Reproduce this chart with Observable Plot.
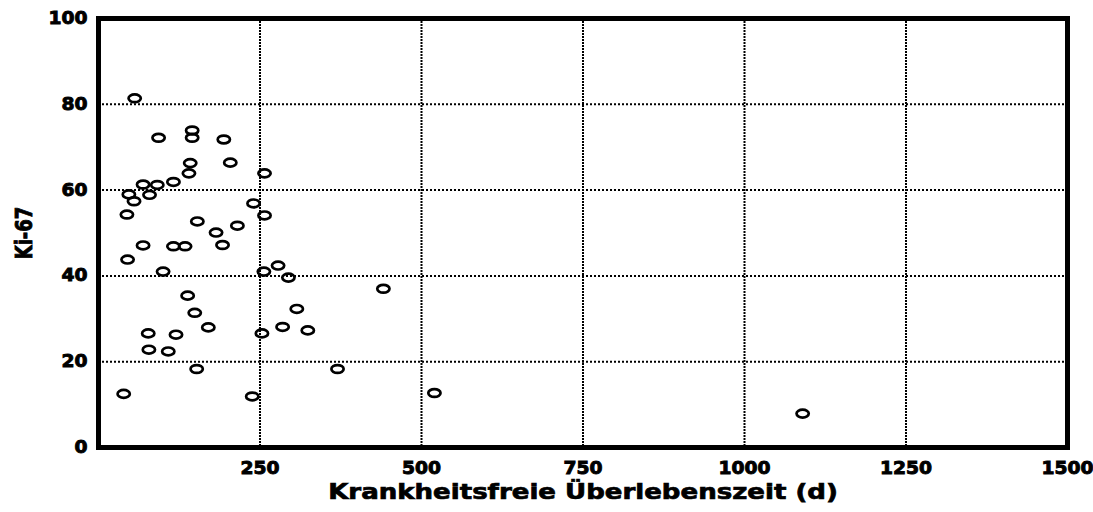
<!DOCTYPE html>
<html>
<head>
<meta charset="utf-8">
<script src="https://cdn.jsdelivr.net/npm/d3@7"></script>
<script src="https://cdn.jsdelivr.net/npm/@observablehq/plot@0.6"></script>
<style>
  html, body { margin: 0; padding: 0; background: #fff; }
  #chart svg { display: block; }
</style>
</head>
<body>
<div id="chart"></div>
<script>
// Krankheitsfreie Überlebenszeit (d)
const survivalDays = [56, 93, 145, 145, 194, 142, 204, 140, 257, 116, 69, 91, 47, 79, 55, 240, 44, 257, 153, 215, 182, 69, 116, 134, 192, 45, 100, 256, 278, 294, 138, 149, 170, 77, 120, 253, 285, 307, 324, 78, 108, 152, 370, 39, 238, 441, 520, 1090];
// Ki-67
const ki67 = [81.4, 72.2, 73.9, 72.2, 71.8, 66.3, 66.4, 63.9, 63.9, 61.9, 61.3, 61.2, 59.0, 58.9, 57.4, 56.9, 54.3, 54.1, 52.7, 51.7, 50.1, 47.1, 46.9, 46.9, 47.2, 43.8, 41.0, 41.0, 42.4, 39.6, 35.4, 31.4, 28.0, 26.6, 26.3, 26.6, 28.1, 32.3, 27.3, 22.8, 22.4, 18.3, 18.3, 12.5, 11.9, 37.0, 12.7, 7.9];

const xTicks = [250, 500, 750, 1000, 1250, 1500];
const yTicks = [0, 20, 40, 60, 80, 100];
const xGrid = [250, 500, 750, 1000, 1250];
const yGrid = [20, 40, 60, 80];
const xTitle = "Krankheitsfreie Überlebenszeit (d)";
const yTitle = "Ki-67";

const points = survivalDays.map((d, i) => ({days: d, ki: ki67[i]}));

const ellipse = {
  draw(ctx, size) {
    const r = Math.sqrt(size / Math.PI);
    const rx = r * 1.25, ry = r * 0.8, k = 0.5523;
    ctx.moveTo(rx, 0);
    ctx.bezierCurveTo(rx, ry * k, rx * k, ry, 0, ry);
    ctx.bezierCurveTo(-rx * k, ry, -rx, ry * k, -rx, 0);
    ctx.bezierCurveTo(-rx, -ry * k, -rx * k, -ry, 0, -ry);
    ctx.bezierCurveTo(rx * k, -ry, rx, -ry * k, rx, 0);
    ctx.closePath();
  }
};

const font = "DejaVu Sans";

const chart = Plot.plot({
  width: 1093,
  height: 512,
  marginLeft: 98,
  marginRight: 26,
  marginTop: 18,
  marginBottom: 65,
  style: {fontFamily: font, fontWeight: "bold", background: "#fff", color: "#000"},
  x: {domain: [0, 1500], axis: null},
  y: {domain: [0, 100], axis: null},
  marks: [
    Plot.ruleX(xGrid, {x: d => d, stroke: "#000", strokeWidth: 2, strokeDasharray: "2,1"}),
    Plot.ruleY(yGrid, {y: d => d, stroke: "#000", strokeWidth: 2, strokeDasharray: "2,2"}),
    Plot.dot(points, {x: "days", y: "ki", symbol: ellipse, r: 4.9, stroke: "#000", strokeWidth: 2.7, fill: "none"}),
    Plot.frame({stroke: "#000", strokeWidth: 5}),
    Plot.axisX({ticks: xTicks, tickSize: 0, tickPadding: 14, fontSize: 17, fontWeight: "bold", label: null, tickFormat: d => String(d)}),
    Plot.axisY({ticks: yTicks, tickSize: 0, tickPadding: 11, fontSize: 17, fontWeight: "bold", label: null, tickFormat: d => String(d)}),
    Plot.text([xTitle], {text: d => d, frameAnchor: "bottom", textAnchor: "middle", dy: 51.5, fontSize: 21, fontWeight: "bold", fill: "#000", className: "xtitle"}),
    Plot.text([yTitle], {text: d => d, frameAnchor: "left", textAnchor: "middle", dx: -74, rotate: -90, fontSize: 18, fontWeight: "bold", fill: "#000", className: "ytitle"})
  ]
});

document.getElementById("chart").appendChild(chart);

// horizontally stretch the heavy lettering, as in the reference
d3.select(chart).selectAll("text").each(function () {
  const el = d3.select(this);
  const t = el.attr("transform") || "";
  const isY = this.closest(".ytitle") !== null;
  const isX = this.closest(".xtitle") !== null;
  const s = isY ? " scale(1,1.3)" : isX ? " scale(1.24,1)" : " scale(1.1,1)";
  el.attr("transform", t + s);
  el.attr("stroke", "#000").attr("stroke-width", isX || isY ? 0.7 : 0.9).attr("fill", "#000");
});
</script>
</body>
</html>
